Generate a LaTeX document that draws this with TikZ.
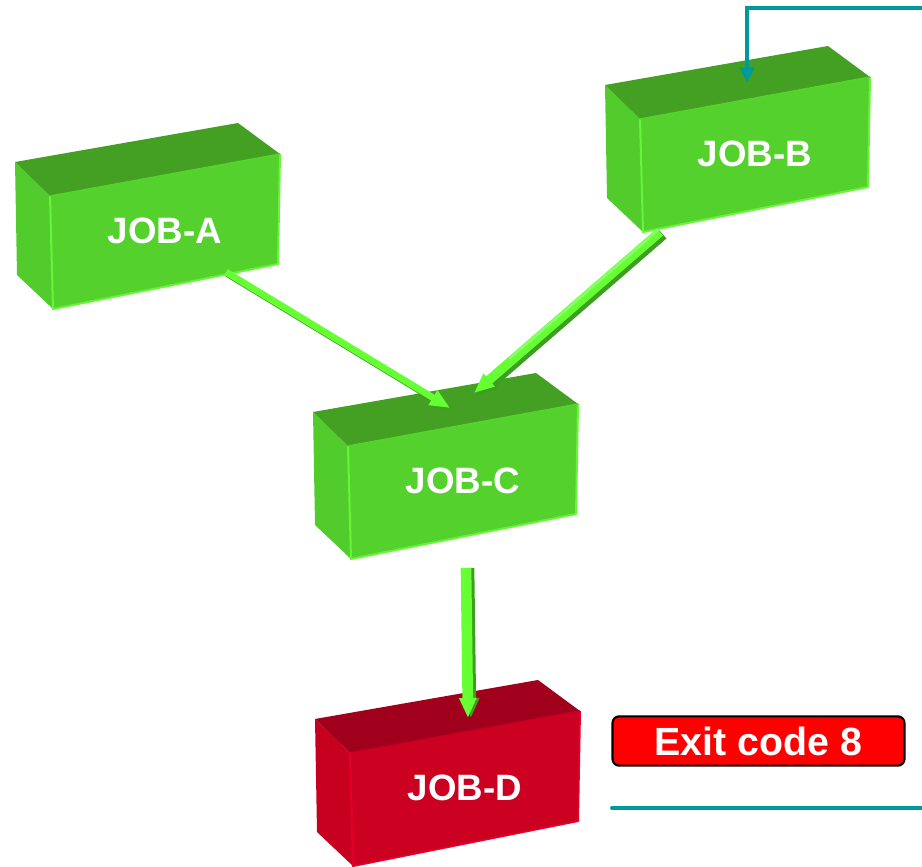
\documentclass[tikz,border=0pt]{standalone}
\usepackage{fontspec}
\setmainfont{Liberation Sans}
\usetikzlibrary{arrows.meta,calc}

\definecolor{gtop}{HTML}{43A023}
\definecolor{gfront}{HTML}{55D12E}
\definecolor{gside}{HTML}{52CC2C}
\definecolor{gedge}{HTML}{66F538}
\definecolor{rtop}{HTML}{A0001B}
\definecolor{rfront}{HTML}{CC0020}
\definecolor{rside}{HTML}{C8001F}
\definecolor{redge}{HTML}{E2002A}
\definecolor{flowlight}{HTML}{66FF33}
\definecolor{flowhi}{HTML}{88FF66}
\definecolor{flowdark}{HTML}{3E9E22}
\definecolor{loopteal}{HTML}{009999}
\definecolor{alertred}{HTML}{FF0000}

\tikzset{
  jobtext/.style={text=white, font=\bfseries\fontsize{27.5pt}{30pt}\selectfont, inner sep=0pt},
  flowtip/.style={-{Triangle[length=15pt,width=12pt]}},
  flow/.style={flowtip, draw=flowlight, line width=#1},
  flowshade/.style={flowtip, draw=flowdark, line width=#1},
  loopline/.style={draw=loopteal, line width=3pt, line cap=round},
  alertbox/.style={draw=black, line width=1.6pt, fill=alertred, rounded corners=5pt,
    minimum width=219pt, minimum height=37pt, inner sep=0pt,
    text=white, font=\bfseries\fontsize{29.5pt}{31pt}\selectfont},
}

% #1 name, #2 front top-left corner, #3 top, #4 front, #5 side, #6 edge colour, #7 label
\newcommand{\jobbox}[7]{%
  \begin{scope}[shift={#2}]
    \fill[#5] (-35,-34) -- (0,0) -- (3,113) -- (-33,79) -- cycle;
    \fill[#3] (-35,-34) -- (188,-73) -- (230,-42) -- (0,0) -- cycle;
    \fill[#4] (0,0) -- (230,-42) -- (228,68) -- (3,113) -- cycle;
    \draw[#6, line width=1.5pt, line join=round] (0,0) -- (3,113) -- (228,68) -- (230,-42);
    \draw[#6!60!#3, line width=1pt] (0,0) -- (230,-42);
    \node[jobtext] (#1) at (115,35) {#7};
  \end{scope}}

\begin{document}
\begin{tikzpicture}[x=0.75pt, y=-0.75pt]
  \useasboundingbox (0,0) rectangle (922,867);

  \jobbox{jobA}{(50,196)}{gtop}{gfront}{gside}{gedge}{JOB-A}
  \jobbox{jobB}{(640,119)}{gtop}{gfront}{gside}{gedge}{JOB-B}
  \jobbox{jobC}{(348,446)}{gtop}{gfront}{gside}{gedge}{JOB-C}
  \jobbox{jobD}{(350,753)}{rtop}{rfront}{rside}{redge}{JOB-D}

  % connector end points on the boxes
  \coordinate (A-out) at (226,272);
  \coordinate (C-inA) at (450,408);
  \coordinate (B-out) at (660,232);
  \coordinate (C-inB) at (474,393);
  \coordinate (C-out) at (466,568);
  \coordinate (D-in)  at (468,718);
  \coordinate (B-in)  at (747,82);
  \coordinate (loop-top) at (922,8);
  \coordinate (loop-start) at (612,808);
  \coordinate (loop-end) at (922,808);

  % job flow arrows, each with a darker side
  \draw[flowshade=5pt] ($(A-out)+(1,1.5)$) -- ($(C-inA)+(1,1.5)$);
  \draw[flow=5pt] (A-out) -- (C-inA);

  \draw[flowshade=8pt] ($(B-out)+(3,2.5)$) -- ($(C-inB)+(3,2.5)$);
  \draw[flow=7pt] (B-out) -- (C-inB);
  \draw[flowhi, line width=2pt] ($(B-out)+(-2,-2)$) -- ($(B-out)!0.8!(C-inB)+(-2,-2)$);

  \draw[flowshade=8pt] ($(C-out)+(3,0)$) -- ($(D-in)+(3,0)$);
  \draw[flow=8pt] (C-out) -- (D-in);

  % rerun loop
  \draw[loopline, -{Triangle[length=11pt,width=11pt]}] (loop-top) -| (B-in);
  \draw[loopline] (loop-start) -- (loop-end);

  \node[alertbox] (exit) at (758.5,741) {Exit code 8};
\end{tikzpicture}
\end{document}
